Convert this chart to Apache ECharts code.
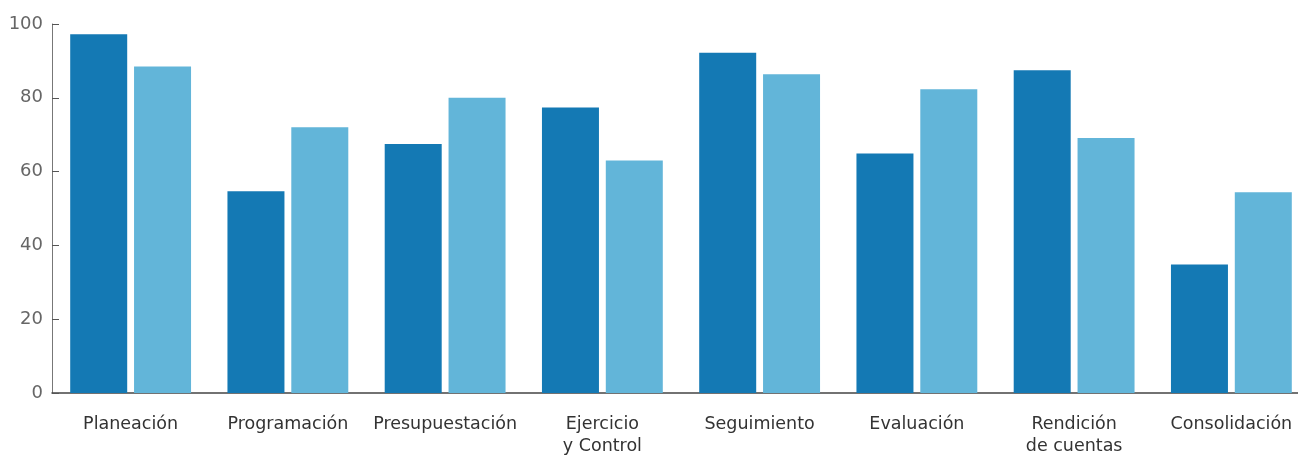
<!DOCTYPE html>
<html>
<head>
<meta charset="utf-8">
<script src="https://cdn.jsdelivr.net/npm/echarts@6/dist/echarts.min.js"></script>
<style>
  html, body { margin: 0; padding: 0; background: #fff; overflow: hidden; }
  /* el grafico original se corta por la derecha */
  #chart { width: 1310px; height: 460px; }
</style>
</head>
<body>
<div id="chart"></div>
<script>
// categorias
const categories = [
  "Planeación", "Programación", "Presupuestación", "Ejercicio\ny Control",
  "Seguimiento", "Evaluación", "Rendición\nde cuentas", "Consolidación"
];
// serie oscura y serie clara
const seriesDark = [97.2, 54.7, 67.5, 77.4, 92.2, 64.9, 87.5, 34.8];
const seriesLight = [88.5, 72.0, 80.0, 63.0, 86.4, 82.3, 69.1, 54.4];
const yTicks = [0, 20, 40, 60, 80, 100];

const chart = echarts.init(document.getElementById("chart"));
chart.setOption({
  animation: false,
  grid: { left: 52, right: 0, top: 24, bottom: 67 },
  xAxis: {
    type: "category",
    data: categories,
    axisLine: { lineStyle: { color: "#444", width: 1.5 } },
    axisTick: { show: false },
    axisLabel: {
      interval: 0,
      color: "#333",
      fontSize: 17.5,
      fontFamily: "DejaVu Sans",
      margin: 20,
      lineHeight: 22
    }
  },
  yAxis: {
    type: "value",
    min: yTicks[0],
    max: yTicks[yTicks.length - 1],
    interval: 20,
    axisLine: { show: true, lineStyle: { color: "#777", width: 1 } },
    axisTick: { show: true, inside: true, length: 7, lineStyle: { color: "#555" } },
    splitLine: { show: false },
    axisLabel: {
      color: "#666",
      fontSize: 18,
      fontFamily: "DejaVu Sans",
      margin: 9
    }
  },
  series: [
    {
      type: "bar",
      data: seriesDark,
      barWidth: 57,
      barGap: "12%",
      itemStyle: { color: "#1479b4" }
    },
    {
      type: "bar",
      data: seriesLight,
      barWidth: 57,
      itemStyle: { color: "#62b5d9" }
    }
  ]
});
</script>
</body>
</html>
